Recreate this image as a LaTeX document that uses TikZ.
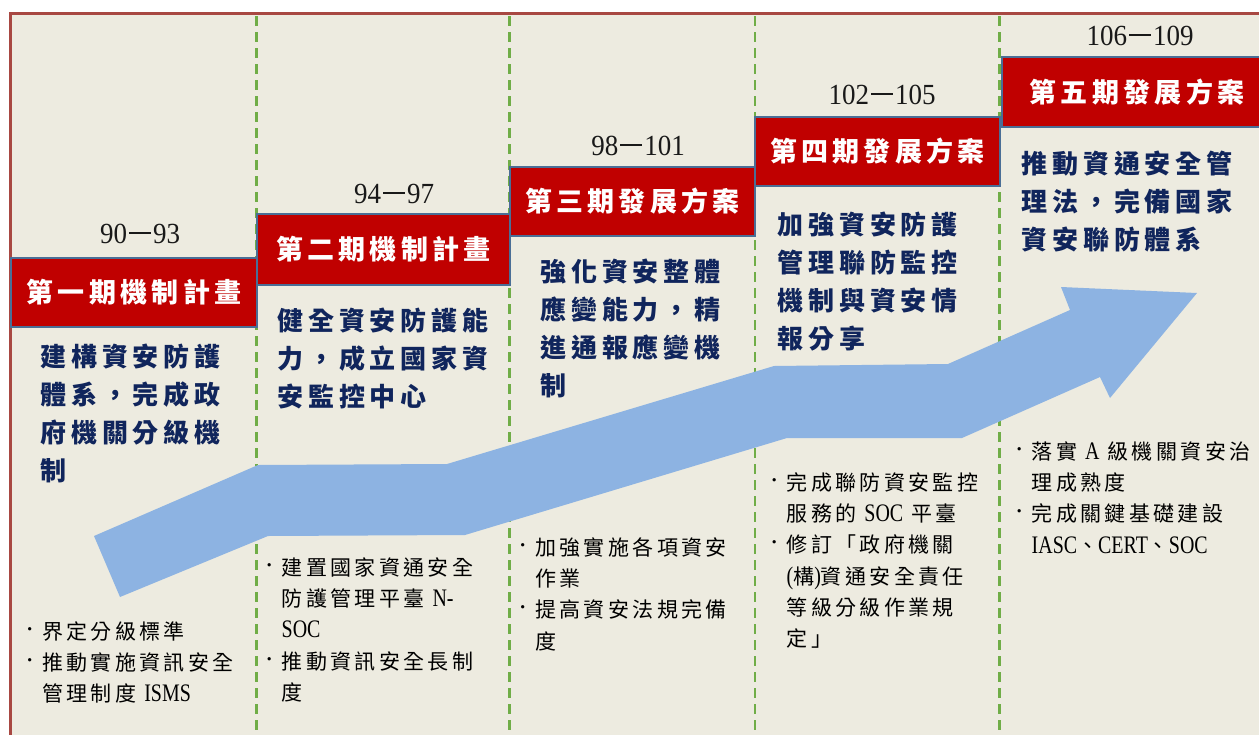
\documentclass[tikz,border=0pt]{standalone}
\usepackage{fontspec}
\setmainfont{Liberation Serif}
\newfontfamily\titlefont[LetterSpace=16]{Noto Sans CJK TC}
\newfontfamily\bodyfont[LetterSpace=19]{Noto Sans CJK TC}
\newfontfamily\bulfont[LetterSpace=16]{Noto Sans CJK TC}
\definecolor{bg}{RGB}{237,235,224}
\definecolor{framered}{RGB}{168,72,66}
\definecolor{dashg}{RGB}{112,173,71}
\definecolor{boxred}{RGB}{192,0,0}
\definecolor{boxedge}{RGB}{74,110,150}
\definecolor{arrowb}{RGB}{141,179,226}
\definecolor{navy}{RGB}{16,37,92}
\newcommand\lat[1]{{\rmfamily\scalebox{0.95}[1.2]{#1}}}
\newcommand\bul{\makebox[17pt][l]{\rmfamily\fontsize{28}{28}\selectfont\raisebox{1pt}{·}}}
\newcommand\ind{\hspace*{17pt}}
\newcommand\yr[2]{\scalebox{1}[1.08]{#1\hspace{2pt}\rule[8.3pt]{22pt}{1.8pt}\hspace{2pt}#2}}
\tikzset{
  gridline/.style={draw=dashg, line width=2.4pt, dash pattern=on 10pt off 6pt},
  phasebox/.style={draw=boxedge, line width=2.5pt, fill=boxred, text=white, inner sep=0pt,
    font=\titlefont\bfseries\fontsize{27}{27}\selectfont},
  yearlabel/.style={anchor=base, inner sep=0pt, text=black!90, font=\rmfamily\fontsize{27}{27}\selectfont},
  goaltext/.style={anchor=north west, inner sep=0pt, align=left, text=navy,
    font=\bodyfont\bfseries\fontsize{26}{38}\selectfont},
  bullettext/.style={anchor=north west, inner sep=0pt, align=left, text=black,
    font=\bulfont\fontsize{21}{31.2}\selectfont},
  arrowfill/.style={fill=arrowb}
}
\begin{document}
\begin{tikzpicture}[x=1pt,y=-1pt]
\useasboundingbox (0,0) rectangle (1259,734);
\fill[white] (0,0) rectangle (1259,734);
\fill[bg] (10.5,13.5) rectangle (1270,745);
\draw[framered, line width=2.6pt] (10.5,745) |- (1270,13.5);
% dashed separators
\foreach \x in {256.5,509.5,755,999.5} \draw[gridline] (\x,16) -- (\x,740);
% big arrow
\fill[arrowfill] (94,536) -- (258,465) -- (447,464) -- (774,366) -- (948,364) -- (1070,310)
  -- (1061,287) -- (1197,293) -- (1110,398) -- (1100,377) -- (962,438) -- (787,438)
  -- (465,535) -- (268,536) -- (120,597) -- cycle;
% phase boxes
\node[phasebox, minimum width=246pt, minimum height=69pt] (b1) at (134,292.5) {\raisebox{-3pt}{第一期機制計畫}\hspace{-4pt}};
\node[phasebox, minimum width=253pt, minimum height=71pt] (b2) at (383.5,249.5) {\raisebox{-3pt}{第二期機制計畫}\hspace{-4pt}};
\node[phasebox, minimum width=245pt, minimum height=69pt] (b3) at (632.5,201.5) {\raisebox{-3pt}{第三期發展方案}\hspace{-4pt}};
\node[phasebox, minimum width=245pt, minimum height=69pt] (b4) at (877.5,151.5) {\raisebox{-3pt}{第四期發展方案}\hspace{-4pt}};
\node[phasebox, minimum width=270pt, minimum height=70pt] (b5) at (1137,92) {\raisebox{-3pt}{第五期發展方案}\hspace{-4pt}};
% year labels
\node[yearlabel] (y1) at (140,243) {\yr{90}{93}};
\node[yearlabel] (y2) at (394,203) {\yr{94}{97}};
\node[yearlabel] (y3) at (638,155) {\yr{98}{101}};
\node[yearlabel] (y4) at (882,104) {\yr{102}{105}};
\node[yearlabel] (y5) at (1140,45) {\yr{106}{109}};
% goal texts
\node[goaltext] (g1) at (40,344) {建構資安防護\\體系，完成政\\府機關分級機\\制};
\node[goaltext] (g2) at (277,308) {健全資安防護能\\力，成立國家資\\安監控中心};
\node[goaltext] (g3) at (540,259) {強化資安整體\\應變能力，精\\進通報應變機\\制};
\node[goaltext] (g4) at (777,212) {加強資安防護\\管理聯防監控\\機制與資安情\\報分享};
\node[goaltext] (g5) at (1021,151) {推動資通安全管\\理法，完備國家\\資安聯防體系};
% bullet lists
\node[bullettext] (l1) at (25,621.5) {\bul 界定分級標準\\\bul 推動實施資訊安全\\\ind 管理制度 \lat{ISMS}};
\node[bullettext] (l2) at (264.5,557.5) {\bul 建置國家資通安全\\\ind 防護管理平臺 \lat{N-}\\\ind \lat{SOC}\\\bul 推動資訊安全長制\\\ind 度};
\node[bullettext] (l3) at (518,537.5) {\bul 加強實施各項資安\\\ind 作業\\\bul 提高資安法規完備\\\ind 度};
\node[bullettext] (l4) at (769.5,472.5) {\bul 完成聯防資安監控\\\ind 服務的 \lat{SOC} 平臺\\\bul 修訂「政府機關\\\ind \lat{(}構\lat{)}資通安全責任\\\ind 等級分級作業規\\\ind 定」};
\node[bullettext] (l5) at (1014.5,441.5) {\bul 落實 \lat{A} 級機關資安治\\\ind 理成熟度\\\bul 完成關鍵基礎建設\\\ind \lat{IASC}、\lat{CERT}、\lat{SOC}};
\end{tikzpicture}
\end{document}
